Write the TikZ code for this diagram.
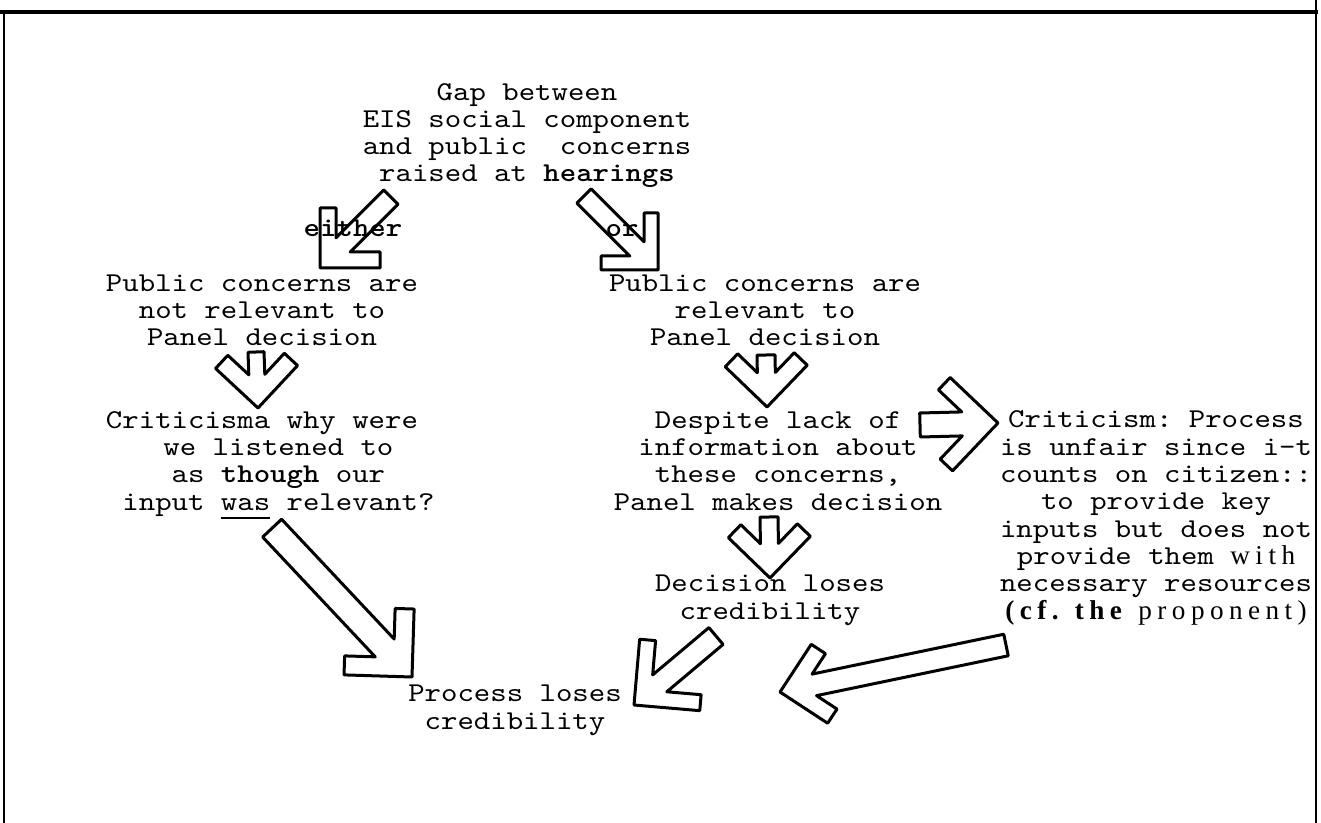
\documentclass[tikz,border=0pt]{standalone}
\usepackage{fontspec}
\setmonofont{lmmono10-regular}[Extension=.otf, FakeStretch=1.15, BoldFont=lmmonolt10-bold]
\newfontfamily\oddfont{Liberation Serif}[LetterSpace=20]

\tikzset{
  txt/.style={font=\ttfamily\fontsize{13.6}{13.65}\selectfont, align=center, inner sep=0pt, anchor=base},
  fatline/.style={draw=black, line width=1.5pt, line join=round, line cap=round},
}

% thick typewriter underline
\newcommand{\thickul}[1]{\setbox0\hbox{#1}\rlap{\rule[-4.7pt]{\wd0}{1.4pt}}\box0\relax}
% shift a centred line by one character
\newcommand{\skipch}{\hphantom{xx}}

% hollow hand drawn arrow: tail, head, arm length, arm width, shaft half width (px)
\newcommand{\fatarrow}[5]{%
  \path (#1); \pgfgetlastxy{\fatailx}{\fataily}
  \path (#2); \pgfgetlastxy{\faheadx}{\faheady}
  \pgfmathsetmacro{\faang}{atan2(\fataily-\faheady,\fatailx-\faheadx)}
  \pgfmathsetmacro{\falen}{2*veclen(\fatailx-\faheadx,\fataily-\faheady)}
  \draw[fatline, shift={(#2)}, rotate=\faang, x=0.5pt, y=0.5pt]
    (0,0) -- ({0.7071*#3},{0.7071*#3})
    -- ({0.7071*(#3+#4)},{0.7071*(#3-#4)})
    -- ({1.4142*#4+#5},{#5}) -- (\falen,#5)
    -- (\falen,-#5) -- ({1.4142*#4+#5},-#5)
    -- ({0.7071*(#3+#4)},{-0.7071*(#3-#4)})
    -- ({0.7071*#3},{-0.7071*#3}) -- cycle;
}

\begin{document}
\begin{tikzpicture}[x=0.5pt, y=-0.5pt]
\useasboundingbox (0,0) rectangle (1321,823);
% frame
\draw[line width=2pt] (0,12) -- (1318,12);
\draw[line width=1.2pt] (4,14) -- (4,823);
\draw[line width=1.4pt] (1316,0) -- (1316,823);

% statements (base = last line)
\node[txt] (gap) at (527,182) {Gap between\\EIS social component\\and public~~concerns\\raised at \textbf{hearings}};
\node[txt] (either) at (353,237) {\textbf{either}};
\node[txt] (or) at (622,237) {\textbf{or}};
\node[txt] (notrel) at (262,346) {Public concerns are\\not relevant to\\Panel decision};
\node[txt] (rel) at (765,346) {Public concerns are\\relevant to\\Panel decision};
\node[txt] (critone) at (262,510) {Criticisma why were\\\skipch we listened to\\\skipch as \textbf{though} our\\\skipch input \thickul{was} relevant?};
\node[txt] (despite) at (778,510) {Despite lack of\\information about\\these concerns,\\Panel makes decision};
\node[txt] (crittwo) at (1156,619) {Criticism: Process\\is unfair since i-t\\counts on citizen::\\to provide key\\inputs but does not\\provide them {\oddfont with}\\necessary resources\\{\oddfont\bfseries (cf. the} {\oddfont proponent)}};
\node[txt] (decloses) at (770,619) {Decision loses\\credibility};
\node[txt] (procloses) at (515,729) {Process loses\\credibility};

% arrow ends
\coordinate (eitherT) at (391,197); \coordinate (eitherH) at (320,268);
\coordinate (orT) at (584,196);     \coordinate (orH) at (658,270);
\coordinate (notrelT) at (256,352); \coordinate (notrelH) at (258,408);
\coordinate (relT) at (766,355);    \coordinate (relH) at (767,407);
\coordinate (despT) at (769,517);   \coordinate (despH) at (770,578);
\coordinate (sideT) at (920,425);   \coordinate (sideH) at (998,423);
\coordinate (critT) at (272,528);   \coordinate (critH) at (412,677);
\coordinate (decT) at (716,636);    \coordinate (decH) at (634,705);
\coordinate (unfT) at (1006,645);   \coordinate (unfH) at (780,692);

% connectors
\fatarrow{eitherT}{eitherH}{60}{16}{10}
\fatarrow{orT}{orH}{57}{14}{10}
\fatarrow{notrelT}{notrelH}{58}{18}{8}
\fatarrow{relT}{relH}{58}{18}{9}
\fatarrow{despT}{despH}{58}{18}{9}
\fatarrow{sideT}{sideH}{66}{17}{12}
\fatarrow{critT}{critH}{68}{19}{13}
\fatarrow{decT}{decH}{66}{16}{11}
\fatarrow{unfT}{unfH}{57}{17}{11}
\end{tikzpicture}
\end{document}
